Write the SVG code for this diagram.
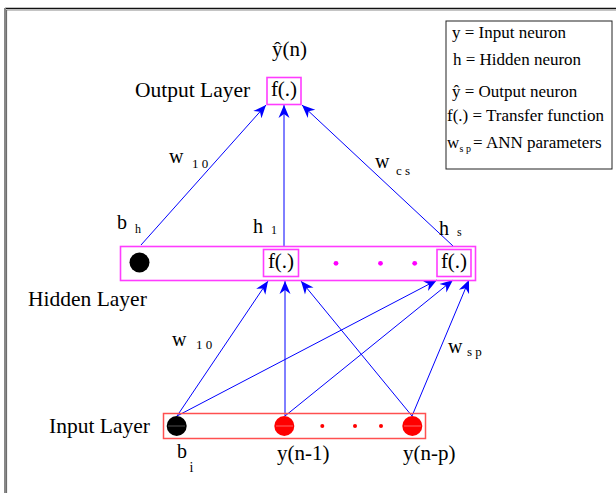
<svg xmlns="http://www.w3.org/2000/svg" width="616" height="493" viewBox="0 0 616 493">
<defs>
<style>
text{font-family:"Liberation Serif","Times New Roman",serif;fill:#000}
.lbl{font-size:21.5px}
.f{font-size:21px;text-anchor:middle}
.w{font-size:20px}
.sub{font-size:13px}
.leg{font-size:17px}
.mag{fill:none;stroke:#ff3cff;stroke-width:1.6}
.edge{stroke:#0000ff;stroke-width:1;fill:none;marker-end:url(#ah)}
</style>
<marker id="ah" viewBox="-13 -6 14 12" refX="0" refY="0" markerWidth="14" markerHeight="12" markerUnits="userSpaceOnUse" orient="auto">
<path d="M0,0 L-13,-5.5 L-9,0 L-13,5.5 Z" fill="#0000ff"/>
</marker>
</defs>
<rect x="0" y="0" width="616" height="493" fill="#fff"/>
<!-- frame -->
<line x1="5" y1="8.5" x2="616" y2="8.5" stroke="#111" stroke-width="1.3"/>
<line x1="7" y1="10.2" x2="616" y2="10.2" stroke="#aaa" stroke-width="1"/>
<line x1="5" y1="8" x2="5" y2="493" stroke="#888" stroke-width="2"/>
<line x1="6.6" y1="10" x2="6.6" y2="493" stroke="#333" stroke-width="0.8"/>

<!-- legend -->
<g id="legend">
<rect x="446" y="21" width="166" height="148" fill="none" stroke="#222" stroke-width="1"/>
<text class="leg" x="452" y="38">y = Input neuron</text>
<text class="leg" x="453" y="65">h = Hidden neuron</text>
<text class="leg" x="452" y="97">ŷ = Output neuron</text>
<text class="leg" x="447" y="121">f(.) = Transfer function</text>
<text class="leg" x="447" y="148">w</text>
<text x="459.5" y="152" style="font-size:10px">s p</text>
<text class="leg" x="473" y="148">= ANN parameters</text>
</g>

<!-- connectors -->
<g id="connectors">
<line class="edge" x1="141" y1="245" x2="266" y2="105"/>
<line class="edge" x1="284" y1="246" x2="284" y2="105"/>
<line class="edge" x1="453" y1="246" x2="302" y2="105"/>
<line class="edge" x1="177" y1="416" x2="268" y2="281"/>
<line class="edge" x1="177" y1="416" x2="437" y2="280"/>
<line class="edge" x1="285" y1="416" x2="285" y2="281"/>
<line class="edge" x1="285" y1="416" x2="453" y2="280"/>
<line class="edge" x1="412" y1="416" x2="301" y2="281"/>
<line class="edge" x1="412" y1="416" x2="469" y2="280"/>
</g>

<!-- output layer -->
<g id="output">
<text x="272" y="56" style="font-size:21px">ŷ(n)</text>
<text class="lbl" x="135" y="97">Output Layer</text>
<rect class="mag" x="267" y="77.5" width="34" height="27"/>
<text class="f" x="284" y="96">f(.)</text>
</g>

<!-- weight labels -->
<g id="weights">
<text class="w" x="169" y="163">w</text><text class="sub" x="192" y="168">1 0</text>
<text class="w" x="375" y="168">w</text><text class="sub" x="396" y="175">c s</text>
<text class="w" x="172" y="346">w</text><text class="sub" x="196" y="349">1 0</text>
<text class="w" x="448" y="353">w</text><text class="sub" x="467" y="356">s p</text>
</g>

<!-- hidden layer -->
<g id="hidden">
<rect class="mag" x="120.5" y="246.5" width="355" height="34"/>
<text class="lbl" x="28" y="306">Hidden Layer</text>
<text class="w" x="117" y="229">b</text><text x="135" y="233" style="font-size:12px">h</text>
<text class="w" x="253" y="233">h</text><text x="271" y="234" style="font-size:12px">1</text>
<text class="w" x="439" y="235">h</text><text x="457" y="236" style="font-size:12px">s</text>
<circle cx="139.5" cy="262.5" r="10" fill="#000"/>
<rect class="mag" x="263.5" y="249.5" width="35" height="27"/>
<text class="f" x="281" y="268">f(.)</text>
<circle cx="336" cy="263.3" r="2.4" fill="#ff00ff"/>
<circle cx="380.5" cy="263.3" r="2.4" fill="#ff00ff"/>
<circle cx="414.7" cy="263.3" r="2.4" fill="#ff00ff"/>
<rect class="mag" x="437" y="249.5" width="34" height="27"/>
<text class="f" x="454" y="268">f(.)</text>
</g>

<!-- input layer -->
<g id="input">
<rect x="163.5" y="413.5" width="262" height="25" fill="none" stroke="#ff5050" stroke-width="1.5"/>
<text class="lbl" x="49" y="433">Input Layer</text>
<circle cx="176.7" cy="426" r="10" fill="#000"/>
<line x1="168" y1="426" x2="185" y2="426" stroke="#666" stroke-width="0.8"/>
<circle cx="284.3" cy="426" r="10" fill="#ff0000"/>
<line x1="276" y1="426" x2="293" y2="426" stroke="#ff8080" stroke-width="0.8"/>
<circle cx="322.3" cy="426" r="2" fill="#ff0000"/>
<circle cx="355" cy="426" r="2" fill="#ff0000"/>
<circle cx="381" cy="426" r="2" fill="#ff0000"/>
<circle cx="412.3" cy="426" r="10" fill="#ff0000"/>
<line x1="404" y1="426" x2="421" y2="426" stroke="#ff8080" stroke-width="0.8"/>
<text class="w" x="177" y="458">b</text><text x="189.5" y="472" style="font-size:14px">i</text>
<text x="277" y="460" style="font-size:21px">y(n-1)</text>
<text x="403" y="460" style="font-size:21px">y(n-p)</text>
</g>
</svg>
